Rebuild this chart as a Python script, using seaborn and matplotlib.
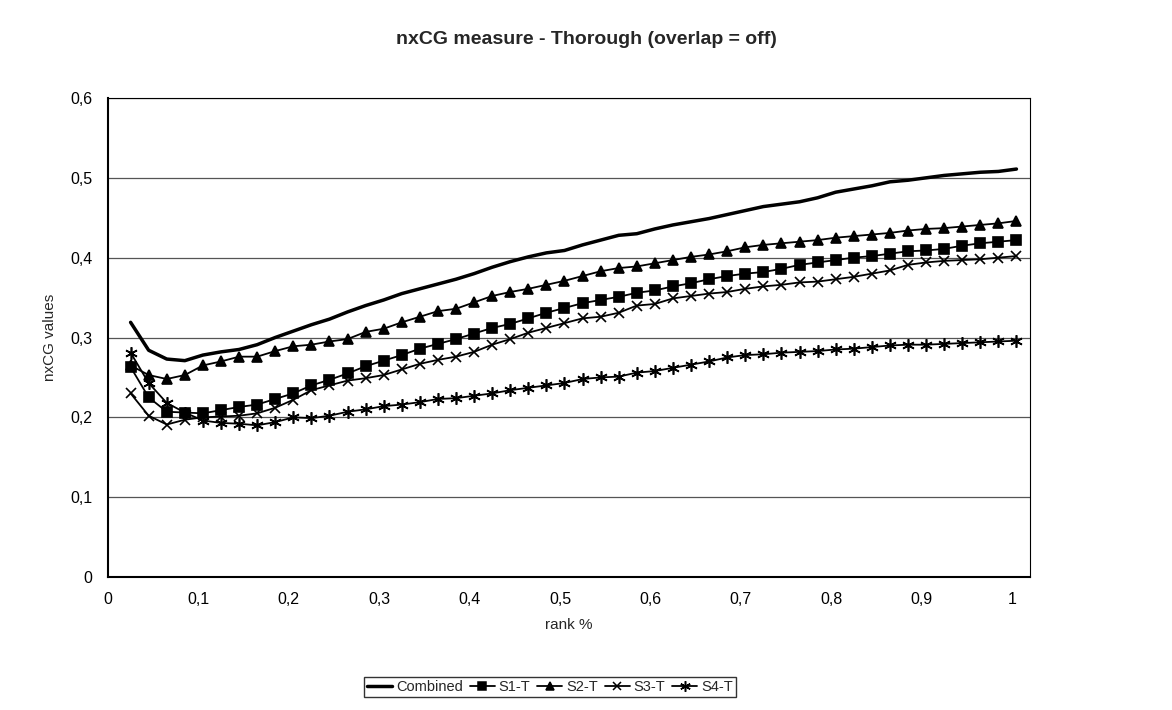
import matplotlib
matplotlib.use("Agg")
import matplotlib.pyplot as plt
import seaborn as sns
import pandas as pd
from matplotlib.lines import Line2D

rank = [0.025, 0.045, 0.065, 0.085, 0.105, 0.125, 0.145, 0.165, 0.185, 0.205,
        0.225, 0.245, 0.265, 0.285, 0.305, 0.325, 0.345, 0.365, 0.385, 0.405,
        0.425, 0.445, 0.465, 0.485, 0.505, 0.525, 0.545, 0.565, 0.585, 0.605,
        0.625, 0.645, 0.665, 0.685, 0.705, 0.725, 0.745, 0.765, 0.785, 0.805,
        0.825, 0.845, 0.865, 0.885, 0.905, 0.925, 0.945, 0.965, 0.985, 1.005]

combined = [0.319, 0.284, 0.273, 0.271, 0.278, 0.282, 0.285, 0.291, 0.300, 0.308,
            0.316, 0.323, 0.332, 0.340, 0.347, 0.355, 0.361, 0.367, 0.373, 0.380,
            0.388, 0.395, 0.401, 0.406, 0.409, 0.416, 0.422, 0.428, 0.430, 0.436,
            0.441, 0.445, 0.449, 0.454, 0.459, 0.464, 0.467, 0.470, 0.475, 0.482,
            0.486, 0.490, 0.495, 0.497, 0.500, 0.503, 0.505, 0.507, 0.508, 0.511]

s1_t = [0.263, 0.225, 0.207, 0.206, 0.205, 0.209, 0.213, 0.216, 0.223, 0.230,
        0.240, 0.247, 0.255, 0.264, 0.271, 0.278, 0.286, 0.292, 0.298, 0.305,
        0.312, 0.317, 0.324, 0.331, 0.337, 0.343, 0.347, 0.351, 0.356, 0.359,
        0.364, 0.368, 0.373, 0.377, 0.380, 0.382, 0.386, 0.391, 0.394, 0.397,
        0.400, 0.402, 0.405, 0.408, 0.409, 0.411, 0.415, 0.418, 0.420, 0.422]

s2_t = [0.265, 0.253, 0.248, 0.253, 0.265, 0.270, 0.276, 0.276, 0.283, 0.289,
        0.291, 0.295, 0.298, 0.307, 0.311, 0.319, 0.326, 0.333, 0.336, 0.344,
        0.352, 0.357, 0.361, 0.366, 0.371, 0.377, 0.383, 0.387, 0.389, 0.393,
        0.397, 0.401, 0.404, 0.408, 0.413, 0.416, 0.418, 0.420, 0.422, 0.425,
        0.427, 0.429, 0.431, 0.434, 0.436, 0.437, 0.439, 0.441, 0.443, 0.446]

s3_t = [0.230, 0.202, 0.191, 0.197, 0.200, 0.201, 0.202, 0.205, 0.212, 0.222,
        0.234, 0.240, 0.246, 0.249, 0.253, 0.260, 0.267, 0.272, 0.276, 0.282,
        0.291, 0.298, 0.306, 0.312, 0.318, 0.324, 0.326, 0.331, 0.340, 0.342,
        0.349, 0.352, 0.355, 0.357, 0.361, 0.364, 0.366, 0.369, 0.370, 0.373,
        0.376, 0.380, 0.384, 0.391, 0.394, 0.396, 0.397, 0.398, 0.400, 0.402]

s4_t = [0.281, 0.243, 0.218, 0.206, 0.196, 0.193, 0.192, 0.190, 0.194, 0.200,
        0.199, 0.202, 0.207, 0.210, 0.214, 0.216, 0.219, 0.223, 0.224, 0.227,
        0.230, 0.234, 0.237, 0.240, 0.243, 0.248, 0.250, 0.251, 0.256, 0.258,
        0.262, 0.266, 0.270, 0.275, 0.278, 0.279, 0.281, 0.282, 0.283, 0.285,
        0.286, 0.288, 0.290, 0.291, 0.291, 0.292, 0.293, 0.294, 0.295, 0.296]

series_names = ["Combined", "S1-T", "S2-T", "S3-T", "S4-T"]
series_vals = [combined, s1_t, s2_t, s3_t, s4_t]

x_ticks = [0, 0.1, 0.2, 0.3, 0.4, 0.5, 0.6, 0.7, 0.8, 0.9, 1.0]
x_tick_labels = ["0", "0,1", "0,2", "0,3", "0,4", "0,5", "0,6", "0,7", "0,8", "0,9", "1"]
y_ticks = [0, 0.1, 0.2, 0.3, 0.4, 0.5, 0.6]
y_tick_labels = ["0", "0,1", "0,2", "0,3", "0,4", "0,5", "0,6"]

sns.set_style("white")
plt.rcParams["font.family"] = ["Liberation Sans", "DejaVu Sans"]

W, H = 1172, 710
L, R, T, B = 108, 1030, 98, 577
fig = plt.figure(figsize=(W / 100, H / 100), dpi=100)
ax = fig.add_axes([L / W, 1 - B / H, (R - L) / W, (B - T) / H])

styles = {
    "Combined": dict(marker=None, lw=2.5, ms=0),
    "S1-T": dict(marker="s", lw=1.3, ms=6.5),
    "S2-T": dict(marker="^", lw=1.3, ms=7.5),
    "S3-T": dict(marker="x", lw=1.3, ms=7.5),
    "S4-T": dict(marker=(6, 2, 0), lw=1.3, ms=9),
}

frames = []
for name, vals in zip(series_names, series_vals):
    frames.append(pd.DataFrame({"rank": rank, "value": vals, "series": name}))
df = pd.concat(frames, ignore_index=True)

handles = []
for name in series_names:
    st = styles[name]
    sub = df[df["series"] == name]
    kw = dict(x="rank", y="value", data=sub, ax=ax, color="black",
              linewidth=st["lw"], legend=False, errorbar=None, sort=False)
    if st["marker"] is not None:
        kw.update(marker=st["marker"], markersize=st["ms"],
                  markeredgecolor="black", markerfacecolor="black",
                  markeredgewidth=1.2)
    sns.lineplot(**kw)
    handles.append(Line2D([0], [0], color="black", lw=st["lw"],
                          marker=st["marker"] if st["marker"] is not None else None,
                          markersize=st["ms"] * 0.85, markerfacecolor="black",
                          markeredgecolor="black", markeredgewidth=1.1))

ax.set_xlim(0, 1.02)
ax.set_ylim(0, 0.6)
ax.set_xticks(x_ticks)
ax.set_xticklabels(x_tick_labels)
ax.set_yticks(y_ticks)
ax.set_yticklabels(y_tick_labels)
ax.tick_params(axis="both", direction="out", length=5, width=1, color="black",
               labelsize=11.5, labelcolor="black", pad=6)
ax.yaxis.grid(True, color="#555555", lw=0.9)
ax.xaxis.grid(False)
ax.set_axisbelow(True)
for side in ["left", "bottom", "top", "right"]:
    ax.spines[side].set_visible(True)
    ax.spines[side].set_color("black")
ax.spines["left"].set_linewidth(1.5)
ax.spines["bottom"].set_linewidth(1.5)
ax.spines["top"].set_linewidth(0.8)
ax.spines["right"].set_linewidth(0.8)

ax.set_xlabel("")
ax.set_ylabel("")
fig.text(50 / W, 1 - 337 / H, "nxCG values", rotation=90, ha="center", va="center",
         fontsize=11)
fig.text(569 / W, 1 - 625 / H, "rank %", ha="center", va="center", fontsize=11)
fig.text(586 / W, 1 - 40 / H, "nxCG measure - Thorough (overlap = off)", ha="center",
         va="center", fontsize=14, fontweight="bold")

leg = fig.legend(handles, series_names, loc="center", ncol=5,
                 bbox_to_anchor=(550 / W, 1 - 687 / H),
                 frameon=True, fancybox=False, edgecolor="black", fontsize=10.5,
                 handlelength=1.7, handletextpad=0.25, columnspacing=0.5,
                 borderpad=0.2, borderaxespad=0)
leg.get_frame().set_linewidth(1.0)

fig.savefig("out.png", dpi=100)
